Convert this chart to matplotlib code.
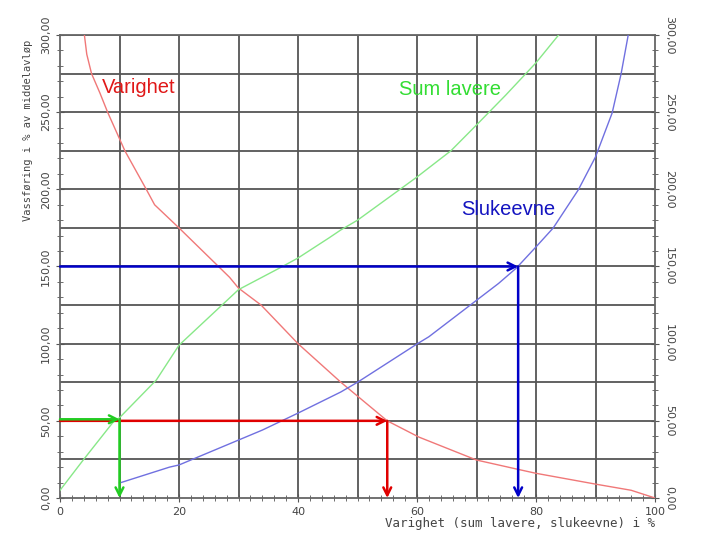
import matplotlib
matplotlib.use("Agg")
import matplotlib.pyplot as plt
from matplotlib.ticker import MultipleLocator, FuncFormatter

# Varighet (duration curve)
var_x = [4.1, 4.5, 5.3, 6.7, 8.0, 10.9, 14.5, 15.9, 20, 28.5, 30, 33.8, 40, 47.2, 55, 60.3, 70, 76.7, 80, 90, 96, 100]
var_y = [300, 287.5, 275, 262.5, 250, 225, 200, 190, 175, 143, 136, 125, 100, 75, 50, 39.5, 24.6, 18.8, 16, 9, 5, 0]

# Sum lavere
sum_x = [0, 3.9, 8.9, 10, 16.2, 20, 28.5, 30, 36.9, 40, 45.2, 47.2, 50, 60, 65.7, 70, 74.9, 80, 83.8]
sum_y = [5, 24.6, 49, 52, 76.5, 99, 129.6, 135, 149, 155.5, 168.5, 173.7, 180, 208, 225, 241.7, 261, 282, 300]

# Slukeevne
sluk_x = [10, 18.4, 20, 34, 40, 47.2, 50, 60, 62, 73.7, 76.7, 80, 82.9, 87.1, 90, 92.8, 94.3, 95.5]
sluk_y = [9.7, 20, 21.4, 44, 55, 68.7, 75, 99.8, 104.5, 139, 149, 162.7, 175, 199.6, 221, 249.5, 274.8, 300]

# Reading examples (arrows)
green_q, green_pct = 51, 10
red_q, red_pct = 50, 55
blue_q, blue_pct = 150, 77

xticks = [0, 20, 40, 60, 80, 100]
yticks = [0, 50, 100, 150, 200, 250, 300]

fig = plt.figure(figsize=(7.1, 5.38), dpi=100)
ax = fig.add_axes([60/710, 1-498/538, 595/710, 463/538])
ax.set_xlim(0, 100)
ax.set_ylim(0, 300)

# grid
for gx in range(10, 100, 10):
    ax.axvline(gx, color="#555555", lw=1.3, zorder=1)
for gy in range(25, 301, 25):
    ax.axhline(gy, color="#555555", lw=1.3, zorder=1)

ax.plot(var_x, var_y, color="#f07878", lw=1.0, zorder=3)
ax.plot(sum_x, sum_y, color="#88e888", lw=1.0, zorder=3)
ax.plot(sluk_x, sluk_y, color="#7070e0", lw=1.0, zorder=3)

def arrow(x0, y0, x1, y1, c):
    ax.annotate("", xy=(x1, y1), xytext=(x0, y0),
                arrowprops=dict(arrowstyle="->", color=c, lw=1.8,
                                mutation_scale=14, shrinkA=0, shrinkB=0),
                zorder=4)

# red reading
arrow(0, red_q, red_pct, red_q, "#e00000")
arrow(red_pct, red_q, red_pct, 0, "#e00000")
# blue reading
arrow(0, blue_q, blue_pct, blue_q, "#0000c8")
arrow(blue_pct, blue_q, blue_pct, 0, "#0000c8")
# green reading
arrow(0, green_q, green_pct, green_q, "#22cc22")
arrow(green_pct, green_q, green_pct, 0, "#22cc22")

fam = ["Liberation Sans", "DejaVu Sans"]
ax.text(7.0, 262.5, "Varighet", color="#e01818", fontsize=14.5, family=fam, ha="left", va="baseline", zorder=5)
ax.text(57.0, 261, "Sum lavere", color="#33dd33", fontsize=14.5, family=fam, ha="left", va="baseline", zorder=5)
ax.text(67.5, 183.4, "Slukeevne", color="#1414c0", fontsize=14.5, family=fam, ha="left", va="baseline", zorder=5)

for s in ax.spines.values():
    s.set_color("#666666")
    s.set_linewidth(1.3)

ax.set_xticks(xticks)
ax.xaxis.set_minor_locator(MultipleLocator(2))
ax.set_yticks(yticks)
ax.yaxis.set_minor_locator(MultipleLocator(10))
ax.tick_params(axis="both", which="both", direction="inout", color="#555555")
ax.tick_params(axis="both", which="major", length=6, labelsize=8, labelcolor="#444444")
ax.tick_params(axis="both", which="minor", length=4)
ax.tick_params(axis="y", which="both", left=True, right=True, labelleft=True, labelright=True)
ax.yaxis.set_major_formatter(FuncFormatter(lambda v, p: f"{v:.2f}".replace(".", ",")))
for t in ax.yaxis.get_major_ticks():
    t.label1.set_rotation(90)
    t.label1.set_va("center")
    t.label2.set_rotation(-90)
    t.label2.set_va("center")

mono = ["DejaVu Sans Mono"]
ax.text(-0.053, 0.795, "Vassføring i % av middelavløp", transform=ax.transAxes,
        rotation=90, fontsize=7.5, family=mono, color="#444444", ha="center", va="center")
ax.text(1.0, -0.055, "Varighet (sum lavere, slukeevne) i %", transform=ax.transAxes,
        fontsize=9, family=mono, color="#444444", ha="right", va="center")

fig.savefig("out.png", dpi=100)
